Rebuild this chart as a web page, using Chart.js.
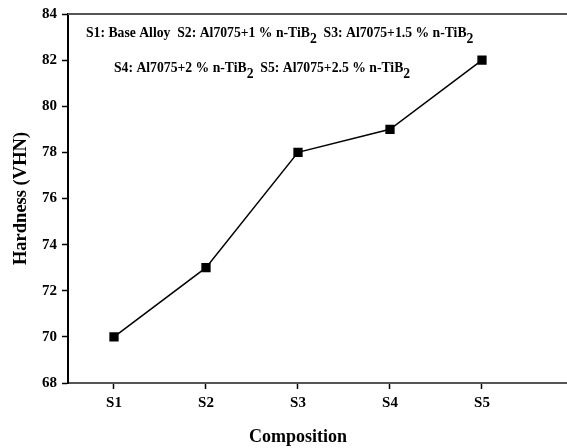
<!DOCTYPE html>
<html>
<head>
<meta charset="utf-8">
<script src="https://cdn.jsdelivr.net/npm/chart.js@4.4.0/dist/chart.umd.min.js"></script>
<style>
  html, body { margin: 0; padding: 0; background: #fff; }
  #wrap { width: 567px; height: 448px; }
</style>
</head>
<body>
<div id="wrap"><canvas id="c" width="567" height="448"></canvas></div>
<script>
// ---- data ----
const categories = ['S1', 'S2', 'S3', 'S4', 'S5'];
const hardness = [70, 73, 78, 79, 82];
const yTickValues = [68, 70, 72, 74, 76, 78, 80, 82, 84];
const xTitle = 'Composition';
const yTitle = 'Hardness (VHN)';
// annotation lines: [text, isSubscript]
const noteLine1 = [['S1: Base Alloy  S2: Al7075+1 % n-TiB', false], ['2', true], ['  S3: Al7075+1.5 % n-TiB', false], ['2', true]];
const noteLine2 = [['S4: Al7075+2 % n-TiB', false], ['2', true], ['  S5: Al7075+2.5 % n-TiB', false], ['2', true]];

const serif = '"Liberation Serif", "Times New Roman", Times, serif';

const extrasPlugin = {
  id: 'extras',
  afterDraw(chart) {
    const ctx = chart.ctx;
    const a = chart.chartArea;
    ctx.save();
    // top border line
    ctx.strokeStyle = '#555';
    ctx.lineWidth = 2;
    ctx.beginPath();
    ctx.moveTo(a.left, a.top);
    ctx.lineTo(chart.width, a.top);
    ctx.stroke();
    // x axis title centred on the category span
    const xs = chart.scales.x;
    const cx = (xs.getPixelForValue(-0.5) + xs.getPixelForValue(4.5)) / 2;
    ctx.fillStyle = '#000';
    ctx.font = 'bold 18px ' + serif;
    ctx.textAlign = 'center';
    ctx.textBaseline = 'middle';
    ctx.fillText(xTitle, cx, 437);
    // notes
    const drawLine = (segs, x, y) => {
      ctx.textAlign = 'left';
      ctx.textBaseline = 'middle';
      for (const [t, sub] of segs) {
        ctx.font = 'bold 13.7px ' + serif;
        ctx.fillText(t, x, sub ? y + 6 : y);
        x += ctx.measureText(t).width;
      }
    };
    drawLine(noteLine1, 86, 33);
    drawLine(noteLine2, 114, 68);
    ctx.restore();
  }
};

new Chart(document.getElementById('c'), {
  type: 'line',
  data: {
    datasets: [{
      data: categories.map((c, i) => ({ x: i, y: hardness[i] })),
      borderColor: '#000',
      backgroundColor: '#000',
      borderWidth: 1.5,
      pointStyle: 'rect',
      pointRadius: 5.5,
      pointHoverRadius: 5.5,
      tension: 0
    }]
  },
  options: {
    responsive: false,
    animation: false,
    events: [],
    layout: { autoPadding: false, padding: { top: 14, right: 0, left: 0, bottom: 0 } },
    plugins: { legend: { display: false }, tooltip: { enabled: false } },
    scales: {
      x: {
        type: 'linear',
        min: -0.5,
        max: 4.924,
        afterBuildTicks(s) { s.ticks = categories.map((c, i) => ({ value: i })); },
        afterFit(s) { s.height = 65; s.paddingLeft = 0; s.paddingRight = 0; },
        ticks: {
          callback: (v) => categories[v],
          color: '#000',
          font: { family: serif, size: 15, weight: 'bold' },
          padding: 5,
          maxRotation: 0
        },
        grid: { drawOnChartArea: false, drawTicks: true, tickLength: 6, color: '#000', tickWidth: 1.5 },
        border: { display: true, color: '#555', width: 2 }
      },
      y: {
        min: 68,
        max: 84,
        afterBuildTicks(s) { s.ticks = yTickValues.map(v => ({ value: v })); },
        afterFit(s) { s.width = 68; },
        ticks: {
          color: '#000',
          font: { family: serif, size: 15, weight: 'bold' },
          padding: 5
        },
        grid: { drawOnChartArea: false, drawTicks: true, tickLength: 6, color: '#000', tickWidth: 1.5 },
        border: { display: true, color: '#000', width: 2 },
        title: {
          display: true,
          text: yTitle,
          color: '#000',
          font: { family: serif, size: 18.5, weight: 'bold' },
          padding: { top: 10, bottom: 0 }
        }
      }
    }
  },
  plugins: [extrasPlugin]
});
</script>
</body>
</html>
